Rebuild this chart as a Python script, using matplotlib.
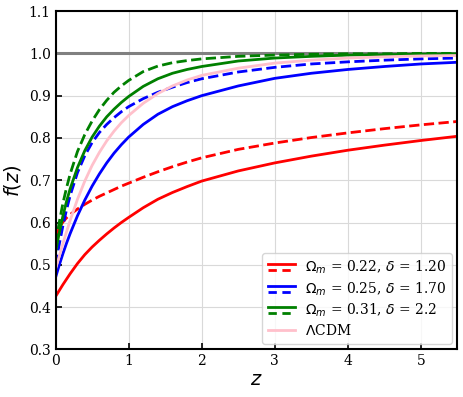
import matplotlib
matplotlib.use('Agg')
import matplotlib.pyplot as plt
from matplotlib.legend_handler import HandlerBase
from matplotlib.lines import Line2D

plt.rcParams['font.family'] = 'serif'
plt.rcParams['mathtext.fontset'] = 'dejavusans'

# values
z = [0, 0.05, 0.1, 0.15, 0.2, 0.3, 0.4, 0.5, 0.6, 0.7, 0.8, 0.9, 1.0,
     1.2, 1.4, 1.6, 1.8, 2.0, 2.5, 3.0, 3.5, 4.0, 4.5, 5.0, 5.5]

f_red = [0.425, 0.439, 0.453, 0.466, 0.479, 0.503, 0.524, 0.542, 0.558, 0.573, 0.587, 0.600, 0.612,
         0.635, 0.655, 0.671, 0.685, 0.698, 0.722, 0.741, 0.757, 0.771, 0.783, 0.794, 0.804]
f_red_d = [0.562, 0.588, 0.601, 0.611, 0.619, 0.632, 0.643, 0.653, 0.662, 0.670, 0.678, 0.686, 0.693,
           0.707, 0.720, 0.732, 0.743, 0.753, 0.773, 0.788, 0.801, 0.812, 0.822, 0.831, 0.839]
f_blue = [0.47, 0.499, 0.526, 0.551, 0.574, 0.616, 0.653, 0.686, 0.715, 0.741, 0.764, 0.784, 0.802,
          0.832, 0.856, 0.874, 0.888, 0.900, 0.923, 0.941, 0.953, 0.962, 0.969, 0.975, 0.979]
f_blue_d = [0.50, 0.548, 0.592, 0.630, 0.664, 0.718, 0.758, 0.789, 0.813, 0.832, 0.848, 0.862, 0.874,
            0.893, 0.908, 0.920, 0.931, 0.940, 0.956, 0.967, 0.975, 0.980, 0.984, 0.987, 0.989]
f_green = [0.53, 0.575, 0.615, 0.65, 0.68, 0.73, 0.77, 0.802, 0.828, 0.850, 0.868, 0.884, 0.898,
           0.922, 0.940, 0.953, 0.962, 0.969, 0.982, 0.989, 0.993, 0.996, 0.997, 0.998, 0.999]
f_green_d = [0.55, 0.60, 0.645, 0.682, 0.715, 0.768, 0.808, 0.840, 0.867, 0.889, 0.908, 0.923, 0.936,
             0.957, 0.970, 0.978, 0.983, 0.987, 0.993, 0.996, 0.998, 0.999, 0.999, 1.0, 1.0]
f_lcdm = [0.49, 0.52, 0.55, 0.578, 0.605, 0.655, 0.698, 0.735, 0.766, 0.793, 0.816, 0.836, 0.853,
          0.882, 0.905, 0.923, 0.937, 0.948, 0.965, 0.977, 0.984, 0.989, 0.992, 0.994, 0.995]

labels = [r'$\Omega_m$ = 0.22, $\delta$ = 1.20',
          r'$\Omega_m$ = 0.25, $\delta$ = 1.70',
          r'$\Omega_m$ = 0.31, $\delta$ = 2.2',
          r'$\Lambda$CDM']


class SolidDashHandler(HandlerBase):
    # solid line on top, dashed one below, in the same legend slot
    def create_artists(self, legend, orig_handle, xdescent, ydescent,
                       width, height, fontsize, trans):
        col = orig_handle.get_color()
        l1 = Line2D([0, width], [0.75 * height, 0.75 * height], color=col, lw=2, transform=trans)
        l2 = Line2D([0, width], [0.15 * height, 0.15 * height], color=col, lw=2, ls='--',
                    dashes=(3, 2), transform=trans)
        return [l1, l2]


fig, ax = plt.subplots(figsize=(4.63, 3.97), dpi=100)

ax.axhline(1.0, color='gray', lw=2.2, zorder=1)
ax.plot(z, f_red, color='red', lw=2)
ax.plot(z, f_red_d, color='red', lw=2, ls='--')
ax.plot(z, f_blue, color='blue', lw=2)
ax.plot(z, f_blue_d, color='blue', lw=2, ls='--')
ax.plot(z, f_green, color='green', lw=2)
ax.plot(z, f_green_d, color='green', lw=2, ls='--')
ax.plot(z, f_lcdm, color='pink', lw=2)

ax.set_xlim(0, 5.5)
ax.set_ylim(0.3, 1.1)
ax.set_xticks([0, 1, 2, 3, 4, 5])
ax.grid(color='#d9d9d9', lw=0.8)
ax.set_axisbelow(True)
ax.tick_params(direction='in', length=4, width=1.2, labelsize=10)
for s in ax.spines.values():
    s.set_linewidth(1.5)

ax.set_xlabel(r'$z$', fontsize=14, labelpad=2)
ax.set_ylabel(r'$f(z)$', fontsize=14, labelpad=4)

h_red = Line2D([], [], color='red')
h_blue = Line2D([], [], color='blue')
h_green = Line2D([], [], color='green')
h_lcdm = Line2D([], [], color='pink', lw=2)
ax.legend([h_red, h_blue, h_green, h_lcdm], labels, loc='lower right', fontsize=10,
          handler_map={h_red: SolidDashHandler(), h_blue: SolidDashHandler(),
                       h_green: SolidDashHandler()},
          handlelength=2.0, handletextpad=0.7, borderaxespad=0.4, labelspacing=0.3)

fig.subplots_adjust(left=0.12, right=0.988, top=0.972, bottom=0.12)
fig.savefig('out.png', dpi=100)
